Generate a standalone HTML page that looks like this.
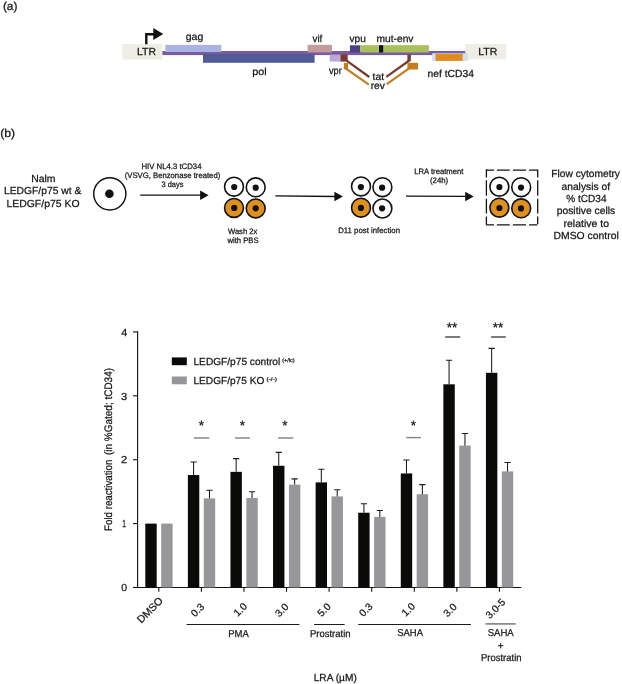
<!DOCTYPE html>
<html lang="en"><head><meta charset="utf-8"><title>Figure</title>
<style>html,body{margin:0;padding:0;background:#fff;}body{width:622px;height:684px;overflow:hidden;}svg{display:block;}text{font-family:"Liberation Sans", Arial, sans-serif;fill:#161616;text-rendering:geometricPrecision;stroke:#161616;stroke-width:0.25px;}</style>
</head><body>
<svg width="622" height="684" viewBox="0 0 622 684">
<rect width="622" height="684" fill="#ffffff"/>
<text id="t1" x="2.90" y="9.60" font-size="11.5" textLength="14.62" lengthAdjust="spacingAndGlyphs" >(a)</text>
<rect x="122.20" y="44.00" width="40.20" height="15.60" fill="#eeeee5" />
<rect x="465.30" y="44.00" width="40.80" height="15.40" fill="#eeeee5" />
<text id="t2" x="136.95" y="54.60" font-size="10.2" textLength="19.08" lengthAdjust="spacingAndGlyphs" >LTR</text>
<text id="t3" x="478.21" y="54.60" font-size="10.2" textLength="19.08" lengthAdjust="spacingAndGlyphs" >LTR</text>
<path d="M146.3 44.2 V34.3 H154" fill="none" stroke="#111" stroke-width="2.4"/>
<path d="M153.3 28 L163.2 33.9 L153.3 39.9 Z" fill="#111"/>
<rect x="162.40" y="51.00" width="302.90" height="4.10" fill="#7b5aa0" />
<rect x="165.30" y="44.90" width="56.00" height="7.10" fill="#aab4e2" />
<text id="t4" x="185.73" y="40.10" font-size="10.2" textLength="17.54" lengthAdjust="spacingAndGlyphs" >gag</text>
<rect x="203.00" y="54.00" width="111.60" height="8.80" fill="#4f5b96" />
<text id="t5" x="252.16" y="75.40" font-size="10.2" textLength="14.40" lengthAdjust="spacingAndGlyphs" >pol</text>
<rect x="307.60" y="44.80" width="24.30" height="7.60" fill="#c59c9c" />
<text id="t6" x="312.50" y="41.50" font-size="10.2" textLength="9.76" lengthAdjust="spacingAndGlyphs" >vif</text>
<rect x="329.70" y="54.60" width="10.70" height="7.00" fill="#bba8d8" />
<text id="t7" x="328.99" y="74.20" font-size="10.2" textLength="12.76" lengthAdjust="spacingAndGlyphs" >vpr</text>
<rect x="340.40" y="54.60" width="7.30" height="7.00" fill="#7a3a34" />
<rect x="349.90" y="45.30" width="10.40" height="7.10" fill="#4f3f86" />
<text id="t8" x="349.50" y="41.50" font-size="10.2" textLength="16.26" lengthAdjust="spacingAndGlyphs" >vpu</text>
<rect x="360.30" y="45.20" width="68.60" height="7.30" fill="#a9c05c" />
<rect x="379.00" y="45.20" width="4.20" height="7.30" fill="#111" />
<text id="t9" x="376.49" y="41.50" font-size="10.2" textLength="37.02" lengthAdjust="spacingAndGlyphs" >mut-env</text>
<rect x="407.40" y="54.60" width="3.50" height="6.60" fill="#7a3a34" />
<path d="M346.6 60.6 L369.3 77.0" stroke="#7a3a34" stroke-width="2.2" fill="none"/>
<path d="M409.3 60.5 L386.3 76.8" stroke="#7a3a34" stroke-width="2.2" fill="none"/>
<rect x="343.90" y="63.00" width="4.20" height="6.30" fill="#c67c1e" />
<rect x="407.40" y="62.80" width="10.60" height="6.70" fill="#c67c1e" />
<path d="M345.6 68.3 L368.9 84.7" stroke="#c67c1e" stroke-width="2.2" fill="none"/>
<path d="M409.0 68.3 L386.8 84.2" stroke="#c67c1e" stroke-width="2.2" fill="none"/>
<text id="t10" x="372.50" y="80.40" font-size="10.2" textLength="11.51" lengthAdjust="spacingAndGlyphs" >tat</text>
<text id="t11" x="370.70" y="88.80" font-size="10.2" textLength="14.30" lengthAdjust="spacingAndGlyphs" >rev</text>
<rect x="432.10" y="53.30" width="35.80" height="7.60" fill="#d3dfea" />
<rect x="435.60" y="54.00" width="27.00" height="6.90" fill="#e08c1e" />
<text id="t12" x="427.49" y="77.30" font-size="10.2" textLength="46.52" lengthAdjust="spacingAndGlyphs" >nef tCD34</text>
<text id="t13" x="0.17" y="137.30" font-size="11.5" textLength="14.89" lengthAdjust="spacingAndGlyphs" >(b)</text>
<text id="t14" x="31.19" y="181.70" font-size="10.2" textLength="24.35" lengthAdjust="spacingAndGlyphs" >Nalm</text>
<text id="t15" x="3.99" y="194.20" font-size="10.2" textLength="77.27" lengthAdjust="spacingAndGlyphs" >LEDGF/p75 wt &amp;</text>
<text id="t16" x="6.49" y="206.60" font-size="10.2" textLength="73.01" lengthAdjust="spacingAndGlyphs" >LEDGF/p75 KO</text>
<circle cx="109.80" cy="193.80" r="16.10" fill="#fff" stroke="#111" stroke-width="1.45"/>
<circle cx="109.40" cy="193.80" r="4.30" fill="#111"/>
<path d="M140.20 195.20 L200.60 195.20" stroke="#111" stroke-width="1.30" fill="none"/>
<path d="M200.10 190.50 L208.60 195.30 L200.10 199.90 Z" fill="#111"/>
<path d="M275.30 195.80 L334.90 196.50" stroke="#111" stroke-width="1.30" fill="none"/>
<path d="M334.40 191.80 L342.90 196.60 L334.40 201.20 Z" fill="#111"/>
<path d="M406.00 196.10 L465.70 196.45" stroke="#111" stroke-width="1.30" fill="none"/>
<path d="M465.20 191.75 L473.70 196.55 L465.20 201.15 Z" fill="#111"/>
<text id="t17" x="141.48" y="168.80" font-size="7.9" textLength="60.02" lengthAdjust="spacingAndGlyphs"  stroke-width="0.12">HIV NL4.3 tCD34</text>
<text id="t18" x="124.75" y="177.80" font-size="7.9" textLength="95.51" lengthAdjust="spacingAndGlyphs"  stroke-width="0.12">(VSVG, Benzonase treated)</text>
<text id="t19" x="161.49" y="187.00" font-size="7.9" textLength="22.02" lengthAdjust="spacingAndGlyphs"  stroke-width="0.12">3 days</text>
<circle cx="234.00" cy="186.70" r="9.45" fill="#fff" stroke="#111" stroke-width="1.60"/>
<circle cx="234.20" cy="187.00" r="3.10" fill="#111"/>
<circle cx="255.70" cy="187.30" r="9.45" fill="#fff" stroke="#111" stroke-width="1.60"/>
<circle cx="255.70" cy="187.70" r="3.10" fill="#111"/>
<circle cx="234.00" cy="207.90" r="9.45" fill="#df911f" stroke="#111" stroke-width="1.60"/>
<circle cx="234.20" cy="207.90" r="3.10" fill="#111"/>
<circle cx="255.70" cy="208.40" r="9.45" fill="#df911f" stroke="#111" stroke-width="1.60"/>
<circle cx="255.70" cy="208.30" r="3.10" fill="#111"/>
<text id="t20" x="228.00" y="233.70" font-size="7.9" textLength="29.25" lengthAdjust="spacingAndGlyphs"  stroke-width="0.12">Wash 2x</text>
<text id="t21" x="227.50" y="242.70" font-size="7.9" textLength="31.01" lengthAdjust="spacingAndGlyphs"  stroke-width="0.12">with PBS</text>
<circle cx="361.00" cy="186.40" r="9.45" fill="#fff" stroke="#111" stroke-width="1.60"/>
<circle cx="360.90" cy="187.10" r="3.10" fill="#111"/>
<circle cx="382.40" cy="187.20" r="9.45" fill="#fff" stroke="#111" stroke-width="1.60"/>
<circle cx="382.10" cy="187.70" r="3.10" fill="#111"/>
<circle cx="361.00" cy="207.70" r="9.45" fill="#df911f" stroke="#111" stroke-width="1.60"/>
<circle cx="360.90" cy="207.90" r="3.10" fill="#111"/>
<circle cx="382.40" cy="208.50" r="9.45" fill="#fff" stroke="#111" stroke-width="1.60"/>
<circle cx="382.10" cy="208.30" r="3.10" fill="#111"/>
<text id="t22" x="338.24" y="232.60" font-size="7.9" textLength="61.77" lengthAdjust="spacingAndGlyphs"  stroke-width="0.12">D11 post infection</text>
<text id="t23" x="414.24" y="173.60" font-size="7.9" textLength="49.26" lengthAdjust="spacingAndGlyphs"  stroke-width="0.12">LRA treatment</text>
<text id="t24" x="429.96" y="182.70" font-size="7.9" textLength="18.28" lengthAdjust="spacingAndGlyphs"  stroke-width="0.12">(24h)</text>
<g stroke="#141414" stroke-width="1.3" fill="none">
<path d="M485.85 170.10 H538.25" stroke-dasharray="8.2 2.8 12.9 3.1 13.2 3.0 8.2"/>
<path d="M485.85 224.90 H538.25" stroke-dasharray="8.2 2.8 12.9 3.1 13.2 3.0 8.2"/>
<path d="M486.40 169.55 V225.45" stroke-dasharray="7.9 2.8 15.6 2.9 14.7 3.1 7.8"/>
<path d="M537.70 169.55 V225.45" stroke-dasharray="7.9 2.8 15.6 2.9 14.7 3.1 7.8"/>
</g>
<circle cx="499.35" cy="186.70" r="9.45" fill="#fff" stroke="#111" stroke-width="1.60"/>
<circle cx="499.40" cy="187.00" r="3.10" fill="#111"/>
<circle cx="521.20" cy="187.20" r="9.45" fill="#fff" stroke="#111" stroke-width="1.60"/>
<circle cx="521.00" cy="187.60" r="3.10" fill="#111"/>
<circle cx="499.35" cy="207.70" r="9.45" fill="#df911f" stroke="#111" stroke-width="1.60"/>
<circle cx="499.40" cy="208.00" r="3.10" fill="#111"/>
<circle cx="521.20" cy="208.30" r="9.45" fill="#df911f" stroke="#111" stroke-width="1.60"/>
<circle cx="521.00" cy="208.40" r="3.10" fill="#111"/>
<text id="t25" x="551.24" y="177.40" font-size="10.3" textLength="68.76" lengthAdjust="spacingAndGlyphs" >Flow cytometry</text>
<text id="t26" x="561.50" y="189.76" font-size="10.3" textLength="48.50" lengthAdjust="spacingAndGlyphs" >analysis of</text>
<text id="t27" x="566.24" y="202.12" font-size="10.3" textLength="40.26" lengthAdjust="spacingAndGlyphs" >% tCD34</text>
<text id="t28" x="556.74" y="214.48" font-size="10.3" textLength="58.51" lengthAdjust="spacingAndGlyphs" >positive cells</text>
<text id="t29" x="563.49" y="226.84" font-size="10.3" textLength="45.54" lengthAdjust="spacingAndGlyphs" >relative to</text>
<text id="t30" x="553.48" y="239.20" font-size="10.3" textLength="65.27" lengthAdjust="spacingAndGlyphs" >DMSO control</text>
<path d="M137.60 331.35 V587.50 H521.40" stroke="#111" stroke-width="1.1" fill="none"/>
<path d="M133.00 587.50 H137.60" stroke="#111" stroke-width="1.1"/>
<text id="t31" x="121.20" y="591.20" font-size="10.2" textLength="5.84" lengthAdjust="spacingAndGlyphs" >0</text>
<path d="M133.00 523.60 H137.60" stroke="#111" stroke-width="1.1"/>
<text id="t32" x="122.37" y="527.30" font-size="10.2" textLength="3.72" lengthAdjust="spacingAndGlyphs" >1</text>
<path d="M133.00 459.70 H137.60" stroke="#111" stroke-width="1.1"/>
<text id="t33" x="120.92" y="463.40" font-size="10.2" textLength="6.20" lengthAdjust="spacingAndGlyphs" >2</text>
<path d="M133.00 395.80 H137.60" stroke="#111" stroke-width="1.1"/>
<text id="t34" x="120.96" y="399.50" font-size="10.2" textLength="6.14" lengthAdjust="spacingAndGlyphs" >3</text>
<path d="M133.00 331.90 H137.60" stroke="#111" stroke-width="1.1"/>
<text id="t35" x="121.23" y="335.60" font-size="10.2" textLength="6.03" lengthAdjust="spacingAndGlyphs" >4</text>
<rect x="145.30" y="523.60" width="11.40" height="63.90" fill="#0a0a09" />
<rect x="161.20" y="523.60" width="11.40" height="63.90" fill="#979698" />
<path d="M158.80 587.50 V591.80" stroke="#111" stroke-width="1.1"/>
<rect x="187.88" y="475.04" width="11.40" height="112.46" fill="#0a0a09" />
<path d="M193.58 475.04 V462.06 M190.48 462.06 H196.68" stroke="#1c1c1c" stroke-width="1.05" fill="none"/>
<rect x="203.78" y="498.36" width="11.40" height="89.14" fill="#979698" />
<path d="M209.48 498.36 V490.18 M206.38 490.18 H212.58" stroke="#1c1c1c" stroke-width="1.05" fill="none"/>
<path d="M201.38 587.50 V591.80" stroke="#111" stroke-width="1.1"/>
<rect x="230.46" y="471.84" width="11.40" height="115.66" fill="#0a0a09" />
<path d="M236.16 471.84 V458.61 M233.06 458.61 H239.26" stroke="#1c1c1c" stroke-width="1.05" fill="none"/>
<rect x="246.36" y="498.04" width="11.40" height="89.46" fill="#979698" />
<path d="M252.06 498.04 V491.65 M248.96 491.65 H255.16" stroke="#1c1c1c" stroke-width="1.05" fill="none"/>
<path d="M243.96 587.50 V591.80" stroke="#111" stroke-width="1.1"/>
<rect x="273.04" y="465.77" width="11.40" height="121.73" fill="#0a0a09" />
<path d="M278.74 465.77 V452.35 M275.64 452.35 H281.84" stroke="#1c1c1c" stroke-width="1.05" fill="none"/>
<rect x="288.94" y="484.62" width="11.40" height="102.88" fill="#979698" />
<path d="M294.64 484.62 V478.87 M291.54 478.87 H297.74" stroke="#1c1c1c" stroke-width="1.05" fill="none"/>
<path d="M286.54 587.50 V591.80" stroke="#111" stroke-width="1.1"/>
<rect x="315.62" y="482.38" width="11.40" height="105.12" fill="#0a0a09" />
<path d="M321.32 482.38 V469.28 M318.22 469.28 H324.42" stroke="#1c1c1c" stroke-width="1.05" fill="none"/>
<rect x="331.52" y="496.44" width="11.40" height="91.06" fill="#979698" />
<path d="M337.22 496.44 V489.73 M334.12 489.73 H340.32" stroke="#1c1c1c" stroke-width="1.05" fill="none"/>
<path d="M329.12 587.50 V591.80" stroke="#111" stroke-width="1.1"/>
<rect x="358.20" y="512.74" width="11.40" height="74.76" fill="#0a0a09" />
<path d="M363.90 512.74 V503.79 M360.80 503.79 H367.00" stroke="#1c1c1c" stroke-width="1.05" fill="none"/>
<rect x="374.10" y="516.89" width="11.40" height="70.61" fill="#979698" />
<path d="M379.80 516.89 V510.50 M376.70 510.50 H382.90" stroke="#1c1c1c" stroke-width="1.05" fill="none"/>
<path d="M371.70 587.50 V591.80" stroke="#111" stroke-width="1.1"/>
<rect x="400.78" y="473.44" width="11.40" height="114.06" fill="#0a0a09" />
<path d="M406.48 473.44 V460.02 M403.38 460.02 H409.58" stroke="#1c1c1c" stroke-width="1.05" fill="none"/>
<rect x="416.68" y="494.21" width="11.40" height="93.29" fill="#979698" />
<path d="M422.38 494.21 V484.62 M419.28 484.62 H425.48" stroke="#1c1c1c" stroke-width="1.05" fill="none"/>
<path d="M414.28 587.50 V591.80" stroke="#111" stroke-width="1.1"/>
<rect x="443.36" y="384.30" width="11.40" height="203.20" fill="#0a0a09" />
<path d="M449.06 384.30 V360.34 M445.96 360.34 H452.16" stroke="#1c1c1c" stroke-width="1.05" fill="none"/>
<rect x="459.26" y="445.64" width="11.40" height="141.86" fill="#979698" />
<path d="M464.96 445.64 V433.50 M461.86 433.50 H468.06" stroke="#1c1c1c" stroke-width="1.05" fill="none"/>
<path d="M456.86 587.50 V591.80" stroke="#111" stroke-width="1.1"/>
<rect x="485.94" y="372.80" width="11.40" height="214.70" fill="#0a0a09" />
<path d="M491.64 372.80 V348.39 M488.54 348.39 H494.74" stroke="#1c1c1c" stroke-width="1.05" fill="none"/>
<rect x="501.84" y="471.39" width="11.40" height="116.11" fill="#979698" />
<path d="M507.54 471.39 V462.58 M504.44 462.58 H510.64" stroke="#1c1c1c" stroke-width="1.05" fill="none"/>
<path d="M499.44 587.50 V591.80" stroke="#111" stroke-width="1.1"/>
<path d="M193.90 438.00 H209.30" stroke="#8a8a8a" stroke-width="1.50"/>
<text x="201.40" y="430.30" font-size="13.5" text-anchor="middle" >*</text>
<path d="M235.00 438.00 H250.00" stroke="#8a8a8a" stroke-width="1.50"/>
<text x="242.30" y="430.30" font-size="13.5" text-anchor="middle" >*</text>
<path d="M278.00 438.00 H293.30" stroke="#8a8a8a" stroke-width="1.50"/>
<text x="285.00" y="430.30" font-size="13.5" text-anchor="middle" >*</text>
<path d="M406.20 437.60 H420.90" stroke="#8a8a8a" stroke-width="1.50"/>
<text x="413.40" y="430.20" font-size="13.5" text-anchor="middle" >*</text>
<path d="M445.20 337.00 H460.20" stroke="#444" stroke-width="1.40"/>
<text x="452.00" y="332.00" font-size="13.5" text-anchor="middle" >**</text>
<path d="M491.10 337.00 H505.80" stroke="#444" stroke-width="1.40"/>
<text x="498.00" y="332.00" font-size="13.5" text-anchor="middle" >**</text>
<rect x="171.80" y="357.40" width="15.00" height="7.80" fill="#0a0a09" />
<rect x="171.80" y="376.50" width="15.00" height="7.80" fill="#979698" />
<text id="t36" x="193.49" y="365.30" font-size="10.2" textLength="86.78" lengthAdjust="spacingAndGlyphs" >LEDGF/p75 control</text>
<text id="t37" x="282.24" y="361.80" font-size="5.2" textLength="12.31" lengthAdjust="spacingAndGlyphs"  stroke-width="0.12">(+/lc)</text>
<text id="t38" x="193.49" y="384.40" font-size="10.2" textLength="70.77" lengthAdjust="spacingAndGlyphs" >LEDGF/p75 KO</text>
<text id="t39" x="266.47" y="381.00" font-size="5.2" textLength="10.32" lengthAdjust="spacingAndGlyphs"  stroke-width="0.12">(-/-)</text>
<text transform="translate(111.7 530.9) rotate(-90)" font-size="10.9" stroke="none" textLength="71.2" lengthAdjust="spacingAndGlyphs">Fold reactivation</text>
<text transform="translate(111.7 455.0) rotate(-90)" font-size="10.9" stroke="none" textLength="87.0" lengthAdjust="spacingAndGlyphs">(in %Gated; tCD34)</text>
<text transform="translate(149.90 610.00) rotate(-45)" font-size="10.6" text-anchor="middle" y="3.6" stroke-width="0.1">DMSO</text>
<text transform="translate(197.40 609.90) rotate(-45)" font-size="10.2" text-anchor="middle" y="3.6" stroke-width="0.1">0.3</text>
<text transform="translate(240.20 609.40) rotate(-45)" font-size="10.2" text-anchor="middle" y="3.6" stroke-width="0.1">1.0</text>
<text transform="translate(281.70 609.90) rotate(-45)" font-size="10.2" text-anchor="middle" y="3.6" stroke-width="0.1">3.0</text>
<text transform="translate(323.90 609.80) rotate(-45)" font-size="10.2" text-anchor="middle" y="3.6" stroke-width="0.1">5.0</text>
<text transform="translate(365.70 609.80) rotate(-45)" font-size="10.2" text-anchor="middle" y="3.6" stroke-width="0.1">0.3</text>
<text transform="translate(408.20 609.40) rotate(-45)" font-size="10.2" text-anchor="middle" y="3.6" stroke-width="0.1">1.0</text>
<text transform="translate(450.00 610.00) rotate(-45)" font-size="10.2" text-anchor="middle" y="3.6" stroke-width="0.1">3.0</text>
<text transform="translate(495.30 608.50) rotate(-45)" font-size="10.2" text-anchor="middle" y="3.6" stroke-width="0.1">3.0-5</text>
<path d="M186.60 624.50 H299.40" stroke="#1c1c1c" stroke-width="1.05"/>
<path d="M314.10 624.50 H344.60" stroke="#1c1c1c" stroke-width="1.05"/>
<path d="M358.20 624.50 H470.90" stroke="#1c1c1c" stroke-width="1.05"/>
<path d="M485.50 623.90 H515.70" stroke="#777" stroke-width="1.50"/>
<text id="t40" x="228.24" y="636.90" font-size="10" textLength="20.51" lengthAdjust="spacingAndGlyphs" >PMA</text>
<text id="t41" x="309.98" y="636.90" font-size="10" textLength="40.55" lengthAdjust="spacingAndGlyphs" >Prostratin</text>
<text id="t42" x="397.24" y="636.40" font-size="10" textLength="25.76" lengthAdjust="spacingAndGlyphs" >SAHA</text>
<text id="t43" x="487.74" y="636.40" font-size="10" textLength="26.01" lengthAdjust="spacingAndGlyphs" >SAHA</text>
<text x="500.60" y="649.00" font-size="10" text-anchor="middle" >+</text>
<text id="t44" x="480.98" y="661.20" font-size="10" textLength="40.54" lengthAdjust="spacingAndGlyphs" >Prostratin</text>
<text id="t45" x="313.72" y="680.80" font-size="10.2" textLength="43.06" lengthAdjust="spacingAndGlyphs" >LRA (µM)</text>
</svg></body></html>
